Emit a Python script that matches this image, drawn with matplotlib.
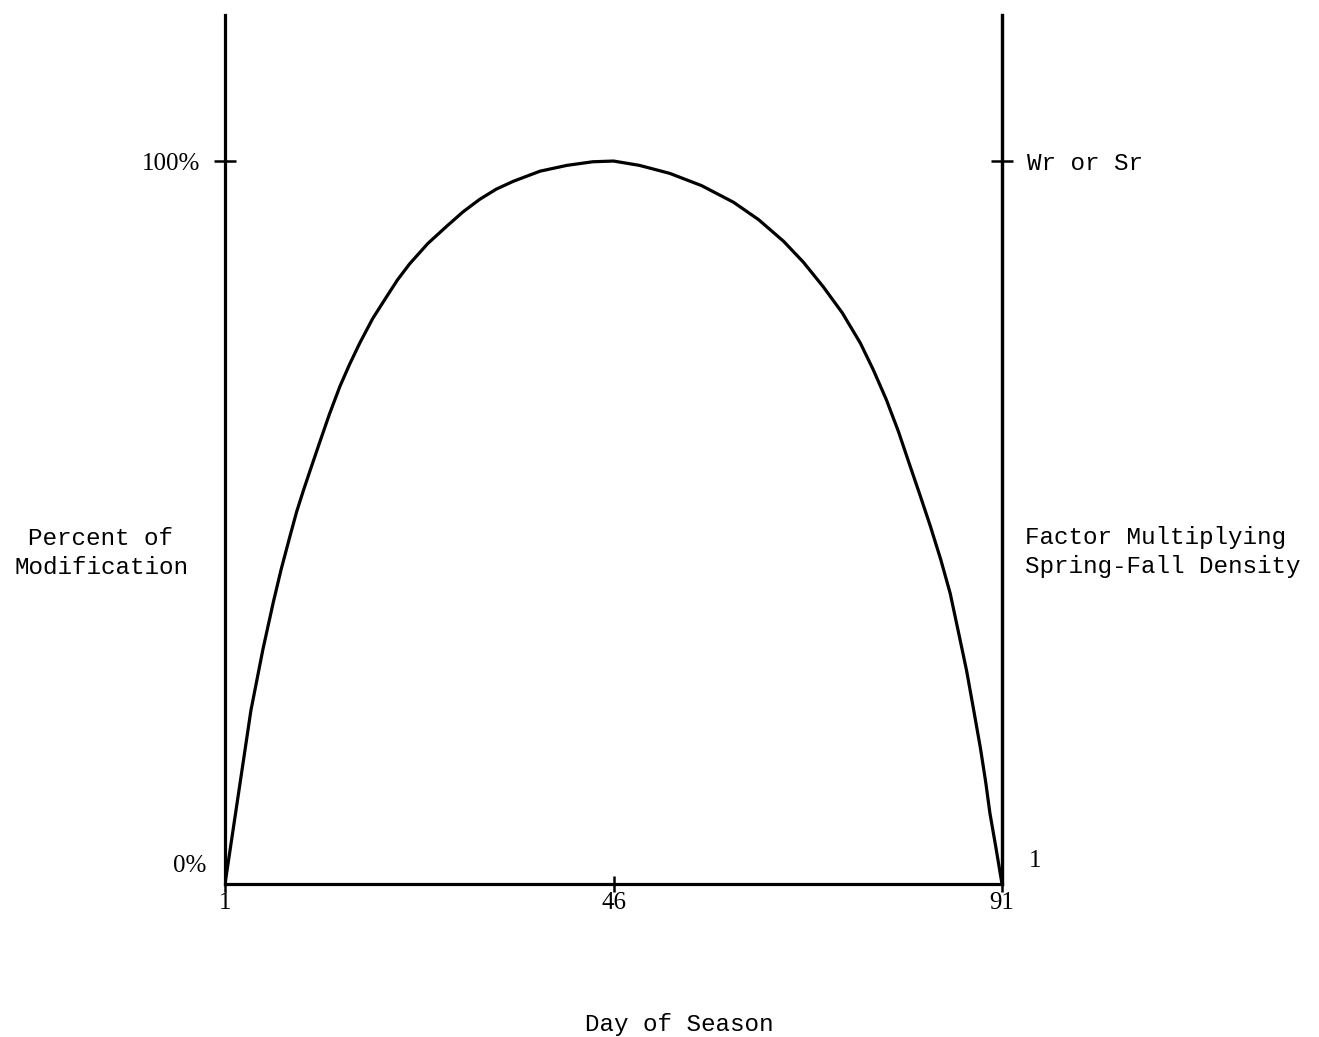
import matplotlib
matplotlib.use("Agg")
import matplotlib.pyplot as plt

# Data
days = [1, 2.5, 4, 5.4, 6.6, 7.5, 8.5, 9.3, 10.1, 11, 12, 13.1, 14.3, 15.4, 16.6,
        18.1, 19.7, 21, 22.4, 24.5, 26.7, 28.6, 30.5, 32.4, 34.4, 37.5, 40.6,
        43.6, 46,
        49, 52.5, 56.2, 59.9, 62.8, 65.7, 68, 70.3, 72.5, 74.6, 76.1, 77.6, 79,
        80.3, 81.5, 82.7, 83.9, 85, 86, 86.9, 87.7, 88.5, 89.1, 89.6, 90.3, 91]
percent = [0, 12, 24, 32.5, 39, 43.5, 48, 51.5, 54.5, 57.7, 61.2, 65, 68.8, 71.8, 74.8,
           78.2, 81.2, 83.6, 85.8, 88.6, 91, 93, 94.7, 96.1, 97.2, 98.6, 99.4,
           99.9, 100,
           99.4, 98.3, 96.6, 94.3, 91.9, 88.9, 86, 82.6, 79, 74.8, 71.1, 67, 62.6,
           58, 53.8, 49.5, 44.9, 40.2, 34.6, 29.5, 24.2, 18.8, 14.2, 9.8, 5, 0]
x_ticks = [1, 46, 91]
x_tick_labels = ["1", "46", "91"]
left_top_label = "100%"
left_bottom_label = "0%"
right_top_label = "Wr or Sr"
right_bottom_label = "1"

W, H = 1319, 1037
fig = plt.figure(figsize=(W / 100, H / 100), dpi=100)
ax = fig.add_axes([225 / W, 1 - 884 / H, (1002 - 225) / W, (884 - 15) / H])

ax.plot(days, percent, color="black", lw=2.3, solid_capstyle="round",
        solid_joinstyle="round")
ax.set_xlim(1, 91)
ax.set_ylim(0, 120.2)

for s in ["left", "right", "bottom"]:
    ax.spines[s].set_linewidth(2.3)
ax.spines["top"].set_visible(False)

serif = "Liberation Serif"
mono = "Liberation Mono"

ax.set_xticks(x_ticks)
ax.set_xticklabels(x_tick_labels, fontfamily=serif, fontsize=18)
ax.tick_params(axis="x", direction="inout", length=12, width=1.8, pad=0)

ax.set_yticks([100])
ax.set_yticklabels([left_top_label], fontfamily=serif, fontsize=18)
ax.tick_params(axis="y", direction="inout", length=16, width=1.8, pad=10)

ax2 = ax.twinx()
ax2.set_ylim(0, 120.2)
ax2.spines["top"].set_visible(False)
ax2.spines["right"].set_linewidth(2.3)
ax2.set_yticks([100])
ax2.set_yticklabels([right_top_label], fontfamily=mono, fontsize=17.5)
ax2.tick_params(axis="y", direction="inout", length=16, width=1.8, pad=10)

ax.text(-0.024, 0.021, left_bottom_label, transform=ax.transAxes, fontfamily=serif,
        fontsize=18, ha="right", va="center")
ax.text(1.043, 0.026, right_bottom_label, transform=ax.transAxes, fontfamily=serif,
        fontsize=18, ha="center", va="center")

fig.text(101 / W, 1 - 553 / H, "Percent of\nModification", fontfamily=mono, fontsize=17.5,
         ha="center", va="center", linespacing=1.3)
fig.text(1025 / W, 1 - 552 / H, "Factor Multiplying\nSpring-Fall Density", fontfamily=mono,
         fontsize=17.5, ha="left", va="center", linespacing=1.3)
fig.text(679 / W, 1 - 1024 / H, "Day of Season", fontfamily=mono, fontsize=17.5,
         ha="center", va="center")

fig.savefig("out.png", dpi=100)
